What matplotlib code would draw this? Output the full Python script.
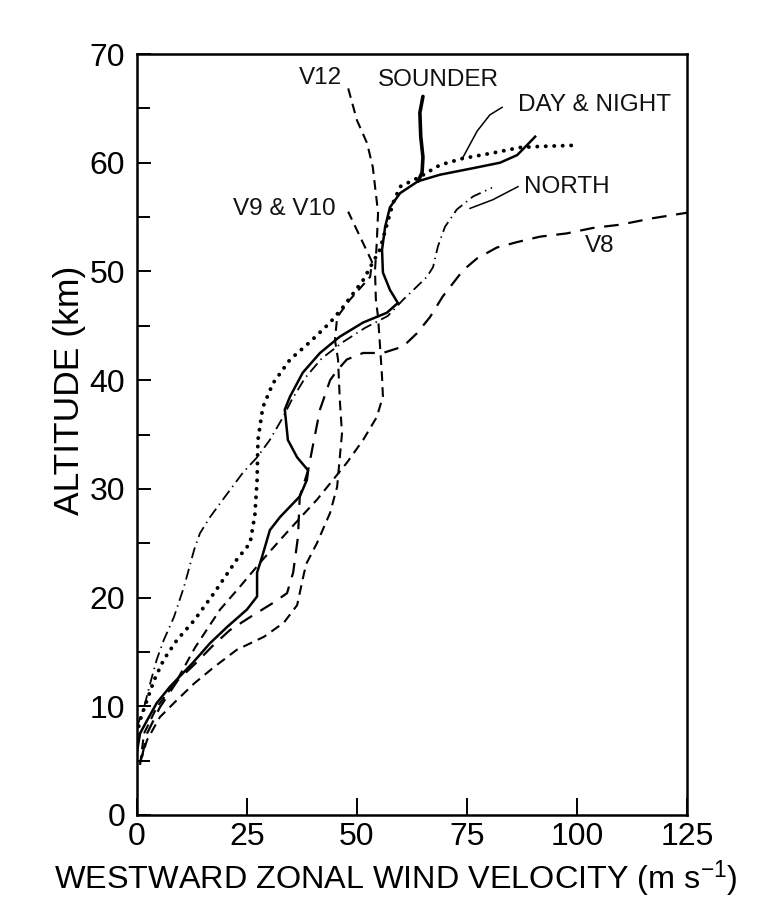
import matplotlib
matplotlib.use("Agg")
import matplotlib.pyplot as plt
from matplotlib.ticker import MultipleLocator

plt.rcParams['font.family'] = ['Liberation Sans', 'DejaVu Sans']
plt.rcParams['mathtext.default'] = 'regular'
plt.rcParams['lines.scale_dashes'] = False

# Westward zonal wind (m/s) vs altitude (km)
sounder_u = [0, 0.7, 2.3, 4.5, 7.5, 12.7, 16.6, 20.5, 25.0, 27.3, 27.3, 28.4, 30.2, 32.5,
             37.0, 38.6, 38.9, 36.4, 34.3, 33.6, 34.8, 37.7, 41.6, 46.1, 51.4, 56.8, 59.3,
             57.5, 55.9, 55.7, 56.4, 57.5, 59.8, 63.9, 68.9, 76.4, 82.5, 86.4, 88.6, 90.5]
sounder_z = [5.8, 7.5, 8.7, 10.3, 11.8, 14.0, 15.8, 17.3, 18.9, 20.1, 22.3, 23.7, 26.2, 27.4,
             29.3, 30.8, 31.7, 32.9, 34.5, 37.3, 38.5, 40.7, 42.5, 44.0, 45.3, 46.2, 47.1,
             48.3, 49.9, 52.0, 54.1, 55.9, 57.2, 58.3, 58.9, 59.5, 60.0, 60.7, 61.6, 62.4]

sounder_top_u = [63.9, 64.8, 65.0, 64.5, 64.3, 65.0]
sounder_top_z = [58.3, 59.1, 60.5, 62.4, 64.6, 66.1]

daynight_u = [0, 0.7, 2.3, 3.9, 6.1, 9.1, 13.0, 17.5, 22.7, 25.7, 26.8, 27.3, 27.5, 28.6,
              30.9, 34.8, 39.3, 43.9, 46.8, 51.4, 55.2, 58.2, 59.8, 64.3, 68.9, 74.1,
              80.9, 87.0, 91.6, 99.5]
daynight_z = [7.4, 8.7, 10.6, 12.4, 14.3, 16.1, 17.9, 20.4, 23.5, 25.0, 27.6, 30.8, 34.5, 37.5,
              39.7, 41.9, 43.5, 45.3, 46.7, 49.2, 52.0, 56.3, 57.8, 58.7, 59.8, 60.4,
              60.9, 61.4, 61.5, 61.6]

north_u = [0, 1.6, 3.0, 4.5, 6.1, 8.4, 10.7, 13.0, 14.3, 16.6, 19.5, 24.1, 27.3, 30.2, 33.2,
           35.2, 38.2, 42.0, 46.8, 51.8, 57.0, 60.5, 63.6, 65.9, 67.3, 68.4, 70.0, 72.7,
           76.4, 80.7]
north_z = [8.1, 9.9, 12.1, 14.3, 16.1, 18.2, 21.0, 24.4, 25.9, 27.4, 29.0, 31.5, 32.9, 34.5, 36.6,
           38.2, 40.2, 42.0, 43.5, 44.8, 45.9, 47.4, 48.6, 49.5, 50.4, 52.3, 54.1, 55.7,
           56.9, 57.7]

v8_u = [1.1, 2.3, 5.2, 9.3, 13.2, 17.3, 21.1, 25.7, 30.9, 34.1, 35.5, 36.6, 37.0, 38.9, 39.8,
        41.6, 43.9, 45.5, 47.7, 51.4, 55.9, 60.5, 63.6, 66.6, 69.5, 71.8, 74.1, 77.3, 81.8,
        86.4, 91.6, 97.7, 103.6, 109.8, 117.3, 125.0]
v8_z = [5.3, 7.5, 9.9, 12.4, 13.9, 15.6, 17.0, 18.2, 19.5, 20.4, 22.3, 25.6, 29.3, 31.7, 33.6,
        37.3, 40.0, 40.9, 41.9, 42.5, 42.5, 43.1, 44.3, 45.8, 47.7, 48.9, 50.1, 51.2, 52.2,
        52.7, 53.2, 53.5, 54.0, 54.3, 54.9, 55.4]

v910_u = [0.7, 2.3, 5.2, 8.4, 13.0, 17.5, 22.7, 28.9, 33.4, 36.4, 38.0, 38.6, 40.9, 43.9, 45.5,
          46.1, 46.6, 46.1, 45.7, 45.0, 45.5, 48.4, 53.0, 53.4, 50.7, 48.0]
v910_z = [4.8, 6.9, 9.0, 10.3, 12.1, 13.6, 15.2, 16.4, 17.7, 19.3, 22.3, 23.2, 25.0, 27.8, 30.2,
          32.9, 35.1, 38.2, 41.9, 43.7, 45.8, 47.4, 49.5, 50.9, 53.2, 55.5]

v12_u = [0.7, 1.6, 4.5, 9.1, 13.2, 18.9, 23.4, 28.6, 33.2, 37.7, 40.9, 44.5, 47.7, 51.4, 54.5,
         55.9, 55.7, 55.2, 54.8, 54.3, 54.1, 54.5, 54.8, 53.6, 52.3, 50.0, 47.7]
v12_z = [4.6, 7.5, 9.9, 12.4, 15.4, 18.9, 21.0, 23.5, 25.6, 27.6, 29.0, 30.8, 32.4, 34.5, 36.6,
         38.5, 40.3, 43.4, 45.8, 47.4, 50.1, 52.6, 55.4, 59.6, 61.8, 63.9, 67.3]

# leader lines from curve ends to their labels
dn_lead_u = [74.1, 77.3, 80.2, 83.0]
dn_lead_z = [60.5, 62.9, 64.4, 65.1]
north_lead_u = [75.7, 80.9, 86.6]
north_lead_z = [55.8, 56.6, 57.8]

labels = ["V12", "SOUNDER", "DAY & NIGHT", "V9 & V10", "NORTH", "V8"]
label_u = [41.6, 68.6, 104.1, 33.4, 97.7, 105.2]
label_z = [67.8, 67.6, 65.3, 55.7, 57.8, 52.3]

fig = plt.figure(figsize=(7.84, 9.11), dpi=100)
ax = fig.add_axes([0.1747, 0.1054, 0.7015, 0.8353])

ax.plot(sounder_u, sounder_z, color='black', lw=1.8, solid_joinstyle='round')
ax.plot(sounder_top_u, sounder_top_z, color='black', lw=2.6, solid_capstyle='round')
ax.plot(daynight_u, daynight_z, color='black', lw=2.8, linestyle=(0, (0.1, 6.0)),
        dash_capstyle='round')
ax.plot(north_u, north_z, color='black', lw=1.3, linestyle=(0, (8, 3.5, 1, 3.5)))
ax.plot(v8_u, v8_z, color='black', lw=1.6, linestyle=(0, (10.5, 7)))
ax.plot(v910_u, v910_z, color='black', lw=1.5, linestyle=(0, (7, 4.5)))
ax.plot(v12_u, v12_z, color='black', lw=1.5, linestyle=(0, (7, 4.5)))
ax.plot(dn_lead_u, dn_lead_z, color='black', lw=1.1)
ax.plot(north_lead_u, north_lead_z, color='black', lw=1.1)

for name, u, z in zip(labels, label_u, label_z):
    ax.text(u, z, name, fontsize=17.5, ha='center', va='center', color='#111111')

ax.set_xlim(0, 125)
ax.set_ylim(0, 70)
ax.xaxis.set_major_locator(MultipleLocator(25))
ax.yaxis.set_major_locator(MultipleLocator(10))
ax.yaxis.set_minor_locator(MultipleLocator(5))
ax.xaxis.set_minor_locator(MultipleLocator(125))

tick_font = ['Liberation Sans Narrow', 'Liberation Sans', 'DejaVu Sans']
ax.tick_params(axis='x', which='major', direction='in', length=12, width=1.4,
               pad=5, labelsize=23, top=False)
ax.tick_params(axis='x', which='minor', length=0)
ax.tick_params(axis='y', which='major', direction='in', length=10, width=1.4,
               pad=8.5, labelsize=23, right=False)
ax.tick_params(axis='y', which='minor', direction='in', length=9, width=1.4, right=False)
for lab in ax.get_xticklabels() + ax.get_yticklabels():
    lab.set_family(tick_font)

for side in ['left', 'bottom', 'right', 'top']:
    ax.spines[side].set_linewidth(1.8)

ax.set_xlabel(r'WESTWARD ZONAL WIND VELOCITY (m s$^{-1}$)', fontsize=23.3)
ax.xaxis.set_label_coords(0.471, -0.084)
ax.xaxis.label.set_va('center')
ax.set_ylabel('ALTITUDE (km)', fontsize=25.5)
ax.yaxis.set_label_coords(-0.122, 0.5585)
ax.yaxis.label.set_va('center')

fig.savefig('out.png', dpi=100, facecolor='white')
